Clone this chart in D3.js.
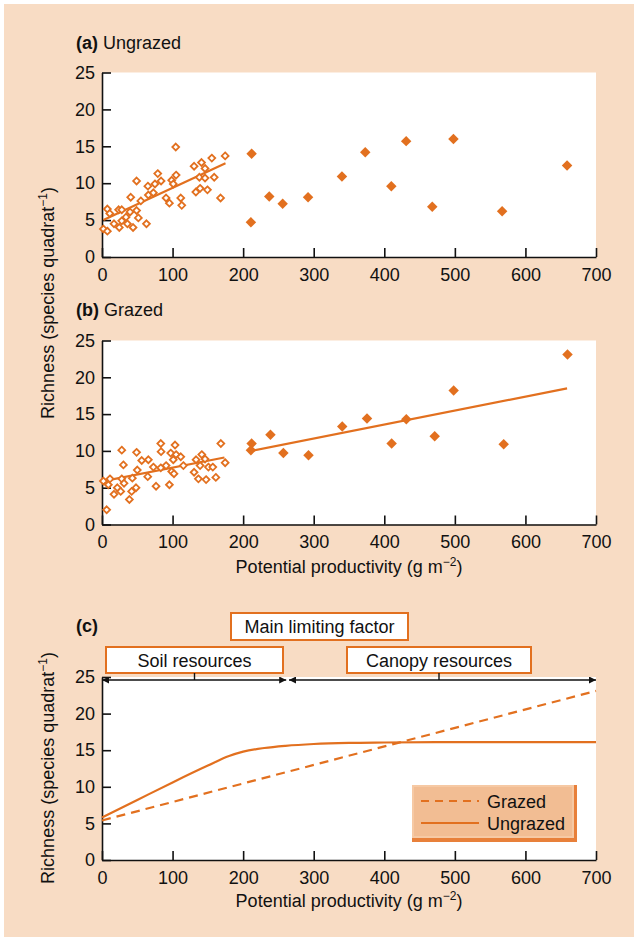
<!DOCTYPE html>
<html lang="en">
<head>
<meta charset="UTF-8">
<title>Richness vs potential productivity</title>
<script src="https://d3js.org/d3.v7.min.js"></script>
<style>
  body { margin: 0; background: #fff; }
  svg text { font-family: "Liberation Sans", Arial, sans-serif; fill: #111; }
</style>
</head>
<body>
<svg id="chart" width="638" height="941"></svg>
<script>
// (a) ungrazed: open = low productivity quadrats, filled = high
const ungrazedOpen = [
  [2,3.8],[7.6,3.5],[7.6,6.5],[11,5.9],[17,4.5],[24.5,4.0],[23.6,6.4],[28,6.4],[28,4.9],
  [34,5.4],[36,4.5],[39.7,6.1],[44,4.0],[49,6.3],[51.5,5.3],[40.7,8.1],[49,10.3],[55,7.6],
  [63,4.5],[65,9.6],[65.7,8.4],[72.8,8.7],[75,9.9],[79,11.3],[83.7,10.3],[90.8,8.0],
  [95.5,7.3],[98.8,10.4],[101,9.9],[105,11.1],[104.5,14.9],[111.6,8.0],[113,7.0],
  [130.5,12.3],[133,8.8],[139,9.3],[138,10.8],[141,12.8],[146,12.0],[146,10.7],
  [149.4,9.1],[155.6,13.4],[159,10.8],[168,8.0],[174.5,13.7]
];
const ungrazedFilled = [
  [212,14.0],[211,4.7],[237,8.2],[256,7.2],[292,8.1],[340,10.9],[373,14.2],[410,9.6],
  [431,15.7],[468,6.8],[498,16.0],[567,6.2],[659,12.4]
];
const ungrazedFit = [[2,5.0],[175,12.7]];

// (b) grazed
const grazedOpen = [
  [2,5.9],[6.6,2.0],[9,5.4],[11.3,6.2],[17,4.1],[21.7,5.0],[26.5,4.5],[28,10.1],[28,6.2],
  [30.3,8.1],[31.2,5.6],[38.8,3.4],[42,4.5],[43,6.3],[48.2,5.0],[49,9.8],[50,7.4],[56.3,8.7],
  [64.8,6.5],[65.7,8.8],[72.8,7.8],[76.6,5.2],[83.3,11.0],[83.7,9.9],[83.3,7.7],[90.8,8.0],
  [95.5,5.4],[97.4,9.7],[98.8,7.2],[101,8.8],[102,6.9],[103.5,10.8],[105,9.5],[111.6,9.2],
  [115.3,8.0],[130.5,7.1],[133.3,8.8],[136.6,6.2],[139,8.0],[141.4,9.5],[146,8.9],[147.5,6.1],
  [150.8,7.8],[157,7.8],[161.3,6.4],[168.4,11.0],[174.5,8.4]
];
const grazedFilled = [
  [212,11.0],[211,10.1],[238.7,12.2],[257,9.7],[292.6,9.4],[340.4,13.3],[375.5,14.4],
  [410.4,11.0],[431.2,14.3],[471.4,12.0],[498.3,18.2],[569.2,10.9],[659.6,23.1]
];
const grazedFitLow = [[2,5.9],[173.5,9.1]];
const grazedFitHigh = [[212,10.0],[659,18.5]];

// (c) model curves
const modelGrazed = [[0,5.4],[700,23.1]];
const modelUngrazed = [
  [0,5.8],[50,8.2],[100,10.6],[150,12.9],[180,14.2],[200,14.8],[230,15.3],[260,15.6],
  [300,15.85],[350,16.0],[400,16.05],[500,16.1],[700,16.1]
];

const xTicks = [0,100,200,300,400,500,600,700];
const yTicks = [0,5,10,15,20,25];

const orange = "#e2701f";
const fs = 18;
const svg = d3.select("#chart");

svg.append("rect").attr("x", 4).attr("y", 4).attr("width", 630).attr("height", 933)
  .attr("fill", "#f8dcc4");

const x = d3.scaleLinear().domain([0, 700]).range([102, 596]);

function panel(y0, y25) {
  const y = d3.scaleLinear().domain([0, 25]).range([y0, y25]);
  svg.append("rect").attr("x", x(0)).attr("y", y(25))
    .attr("width", x(700) - x(0)).attr("height", y(0) - y(25)).attr("fill", "#fff");
  const ax = svg.append("g").attr("transform", `translate(0,${y(0)})`)
    .call(d3.axisBottom(x).tickValues(xTicks).tickSizeInner(-9).tickSizeOuter(0).tickPadding(11));
  const ay = svg.append("g").attr("transform", `translate(${x(0)},0)`)
    .call(d3.axisLeft(y).tickValues(yTicks).tickSizeInner(-9).tickSizeOuter(0).tickPadding(7));
  [ax, ay].forEach(a => {
    a.select(".domain").attr("stroke", "#111").attr("stroke-width", 1.6);
    a.selectAll(".tick line").attr("stroke", "#111").attr("stroke-width", 1.6);
    a.selectAll("text").attr("font-size", fs).attr("fill", "#111");
  });
  return y;
}

const diamond = d3.symbol().type(d3.symbolDiamond2);

function scatter(y, openPts, filledPts) {
  svg.append("g").selectAll("path").data(openPts).join("path")
    .attr("d", diamond.size(30)())
    .attr("transform", d => `translate(${x(d[0])},${y(d[1])})`)
    .attr("fill", "#fff").attr("stroke", orange).attr("stroke-width", 1.8);
  svg.append("g").selectAll("path").data(filledPts).join("path")
    .attr("d", diamond.size(70)())
    .attr("transform", d => `translate(${x(d[0])},${y(d[1])})`)
    .attr("fill", orange);
}

function fit(y, pts, dash) {
  svg.append("path").datum(pts)
    .attr("d", d3.line().x(d => x(d[0])).y(d => y(d[1])).curve(d3.curveMonotoneX))
    .attr("fill", "none").attr("stroke", orange).attr("stroke-width", 2.2)
    .attr("stroke-dasharray", dash || null);
}

function withSup(t, main, sup) {
  t.append("tspan").text(main);
  t.append("tspan").text(sup).attr("font-size", 12).attr("dy", -7);
  t.append("tspan").text(")").attr("dy", 7);
}

function richnessLabel(cy) {
  const t = svg.append("text").attr("transform", `translate(54,${cy}) rotate(-90)`)
    .attr("text-anchor", "middle").attr("font-size", fs);
  withSup(t, "Richness (species quadrat", "−1");
}

function prodLabel(by) {
  const t = svg.append("text").attr("x", 349).attr("y", by)
    .attr("text-anchor", "middle").attr("font-size", fs);
  withSup(t, "Potential productivity (g m", "−2");
}

function title(by, tag, rest) {
  const t = svg.append("text").attr("x", 76).attr("y", by).attr("font-size", fs);
  t.append("tspan").text(tag).attr("font-weight", "bold");
  if (rest) t.append("tspan").text(" " + rest);
}

// (a)
title(49, "(a)", "Ungrazed");
const ya = panel(257, 72.5);
fit(ya, ungrazedFit);
scatter(ya, ungrazedOpen, ungrazedFilled);

// (b)
title(316, "(b)", "Grazed");
const yb = panel(524.5, 340.5);
fit(yb, grazedFitLow);
fit(yb, grazedFitHigh);
scatter(yb, grazedOpen, grazedFilled);
prodLabel(573);
richnessLabel(303);

// (c)
title(632, "(c)");
const yc = panel(860, 677);
fit(yc, modelGrazed, "9,6");
fit(yc, modelUngrazed);
prodLabel(907);
richnessLabel(768);

// limiting factor boxes and arrows
function box(x0, x1, y0, y1, label) {
  svg.append("rect").attr("x", x0).attr("y", y0).attr("width", x1 - x0).attr("height", y1 - y0)
    .attr("fill", "#fff").attr("stroke", orange).attr("stroke-width", 2);
  svg.append("text").attr("x", (x0 + x1) / 2).attr("y", (y0 + y1) / 2 + 6.5)
    .attr("text-anchor", "middle").attr("font-size", fs).text(label);
}
box(231, 408, 613, 640, "Main limiting factor");
box(106, 283, 647, 673, "Soil resources");
box(347, 531, 647, 673, "Canopy resources");

const defs = svg.append("defs");
defs.append("marker").attr("id", "ah").attr("viewBox", "0 0 10 10").attr("refX", 10).attr("refY", 5)
  .attr("markerWidth", 9).attr("markerHeight", 7).attr("markerUnits", "userSpaceOnUse")
  .attr("orient", "auto-start-reverse")
  .append("path").attr("d", "M0,0L10,5L0,10Z").attr("fill", "#111");

const boundary = 263;
[[0, boundary - 2], [boundary + 2, 700]].forEach(([a, b]) => {
  svg.append("line").attr("x1", x(a)).attr("x2", x(b)).attr("y1", 680).attr("y2", 680)
    .attr("stroke", "#111").attr("stroke-width", 1.4)
    .attr("marker-start", "url(#ah)").attr("marker-end", "url(#ah)");
});
[194.5, 439].forEach(cx => {
  svg.append("line").attr("x1", cx).attr("x2", cx).attr("y1", 673).attr("y2", 680)
    .attr("stroke", "#111").attr("stroke-width", 1.4);
});

// legend
const lg = svg.append("g");
lg.append("rect").attr("x", 412).attr("y", 785).attr("width", 165).attr("height", 57).attr("fill", "#e8803a");
lg.append("rect").attr("x", 412).attr("y", 785).attr("width", 162).attr("height", 53).attr("fill", "#f6c9a4");
lg.append("rect").attr("x", 414).attr("y", 787).attr("width", 158).attr("height", 49).attr("fill", "#f2bd93");
[["Grazed", "8,6", 801], ["Ungrazed", null, 823]].forEach(([name, dash, ly]) => {
  lg.append("line").attr("x1", 421).attr("x2", 479).attr("y1", ly).attr("y2", ly)
    .attr("stroke", orange).attr("stroke-width", 2).attr("stroke-dasharray", dash);
  lg.append("text").attr("x", 487).attr("y", ly + 6.5).attr("font-size", fs).text(name);
});
</script>
</body>
</html>
